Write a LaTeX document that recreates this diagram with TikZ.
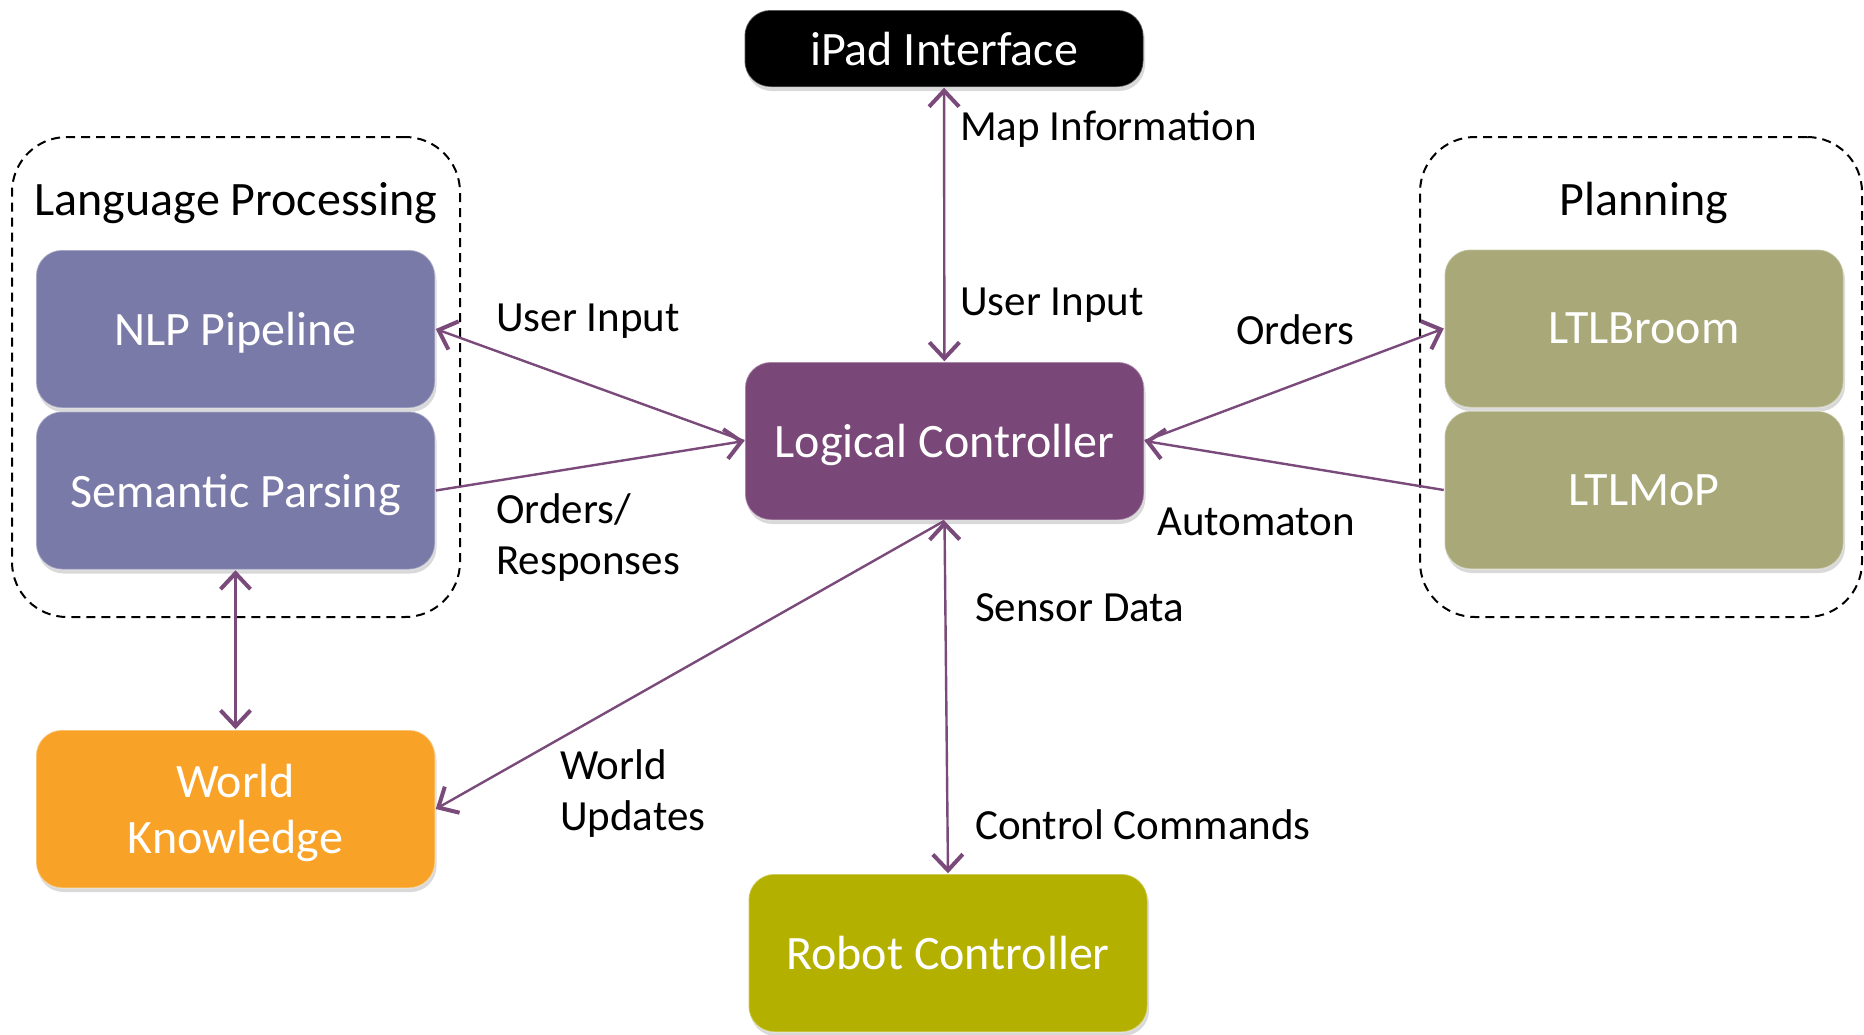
\documentclass[tikz,border=0pt]{standalone}
\usepackage{fontspec}
\setmainfont{Carlito}
\usetikzlibrary{positioning, arrows.meta, shadows}

\definecolor{lcpurple}{RGB}{122,71,121}
\definecolor{nlpblue}{RGB}{122,122,168}
\definecolor{ltlolive}{RGB}{169,168,120}
\definecolor{wkorange}{RGB}{249,162,40}
\definecolor{robotolive}{RGB}{180,176,0}
\definecolor{linkpurple}{RGB}{122,74,122}

\tikzset{
  module/.style={rectangle, rounded corners=26pt, minimum width=399pt, minimum height=158pt,
    inner sep=0pt, text depth=0pt, text=white, align=center, font=\fontsize{48}{56}\selectfont,
    draw=white, draw opacity=0.35, line width=1.5pt,
    drop shadow={shadow xshift=1.5pt, shadow yshift=-4pt, opacity=0.3}},
  group/.style={draw, line width=2pt, dash pattern=on 9pt off 6pt, rounded corners=55pt},
  tag/.style={anchor=west, inner sep=0pt, align=left, font=\fontsize{43}{51}\selectfont},
  title/.style={inner sep=0pt, font=\fontsize{48}{56}\selectfont},
  link/.style={draw=linkpurple, line width=2.4pt}
}

\begin{document}
\begin{tikzpicture}
[x=1pt, y=-1pt, >={Straight Barb[length=16pt, width=30pt, line width=4pt]}]

\useasboundingbox (0,0) rectangle (1864,1034);

% groups
\node[group, minimum width=448pt, minimum height=480pt] (langgroup) at (236,377) {};
\node[group, minimum width=442pt, minimum height=480pt] (plangroup) at (1641,377) {};
\node[title] (langtitle) at (236,203) {Language Processing};
\node[title] (plantitle) at (1644,203) {Planning};

% modules
\node[module, fill=black, minimum height=77pt] (ipad) at (944,48.5) {iPad Interface};
\node[module, fill=lcpurple] (lc) at (944.5,441) {Logical Controller};
\node[module, fill=nlpblue] (nlp) at (235.5,329) {NLP Pipeline};
\node[module, fill=nlpblue, below=2pt of nlp] (sem) {Semantic Parsing};
\node[module, fill=ltlolive] (ltlb) at (1644,328.5) {LTLBroom};
\node[module, fill=ltlolive, below=2pt of ltlb] (ltlm) {LTLMoP};
\node[module, fill=wkorange] (wk) at (235.5,809) {World\\Knowledge};
\node[module, fill=robotolive] (robot) at (948,953) {Robot Controller};

% connections
\draw[link, <->] (ipad) -- (lc);
\draw[link, ->] (lc.west) -- (nlp.east);
\draw[link, ->] (sem.east) -- (lc.west);
\draw[link, ->] (lc.east) -- (ltlb.west);
\draw[link, ->] (ltlm.west) -- (lc.east);
\draw[link, <->] (sem) -- (wk);
\draw[link, ->] (lc.south) -- (wk.east);
\draw[link, <->] (lc.south) -- (robot.north);

% labels
\node[tag] (mapinfo) at (960,129) {Map Information};
\node[tag] (ipadinput) at (960,305) {User Input};
\node[tag] (nlpinput) at (496,321) {User Input};
\node[tag] (orders) at (496,538) {Orders/\\Responses};
\node[tag] (ltlorders) at (1236,330) {Orders};
\node[tag] (automaton) at (1157,522) {Automaton};
\node[tag] (sensor) at (975,608) {Sensor Data};
\node[tag] (control) at (975,825) {Control Commands};
\node[tag] (updates) at (560,794) {World\\Updates};
\end{tikzpicture}
\end{document}
